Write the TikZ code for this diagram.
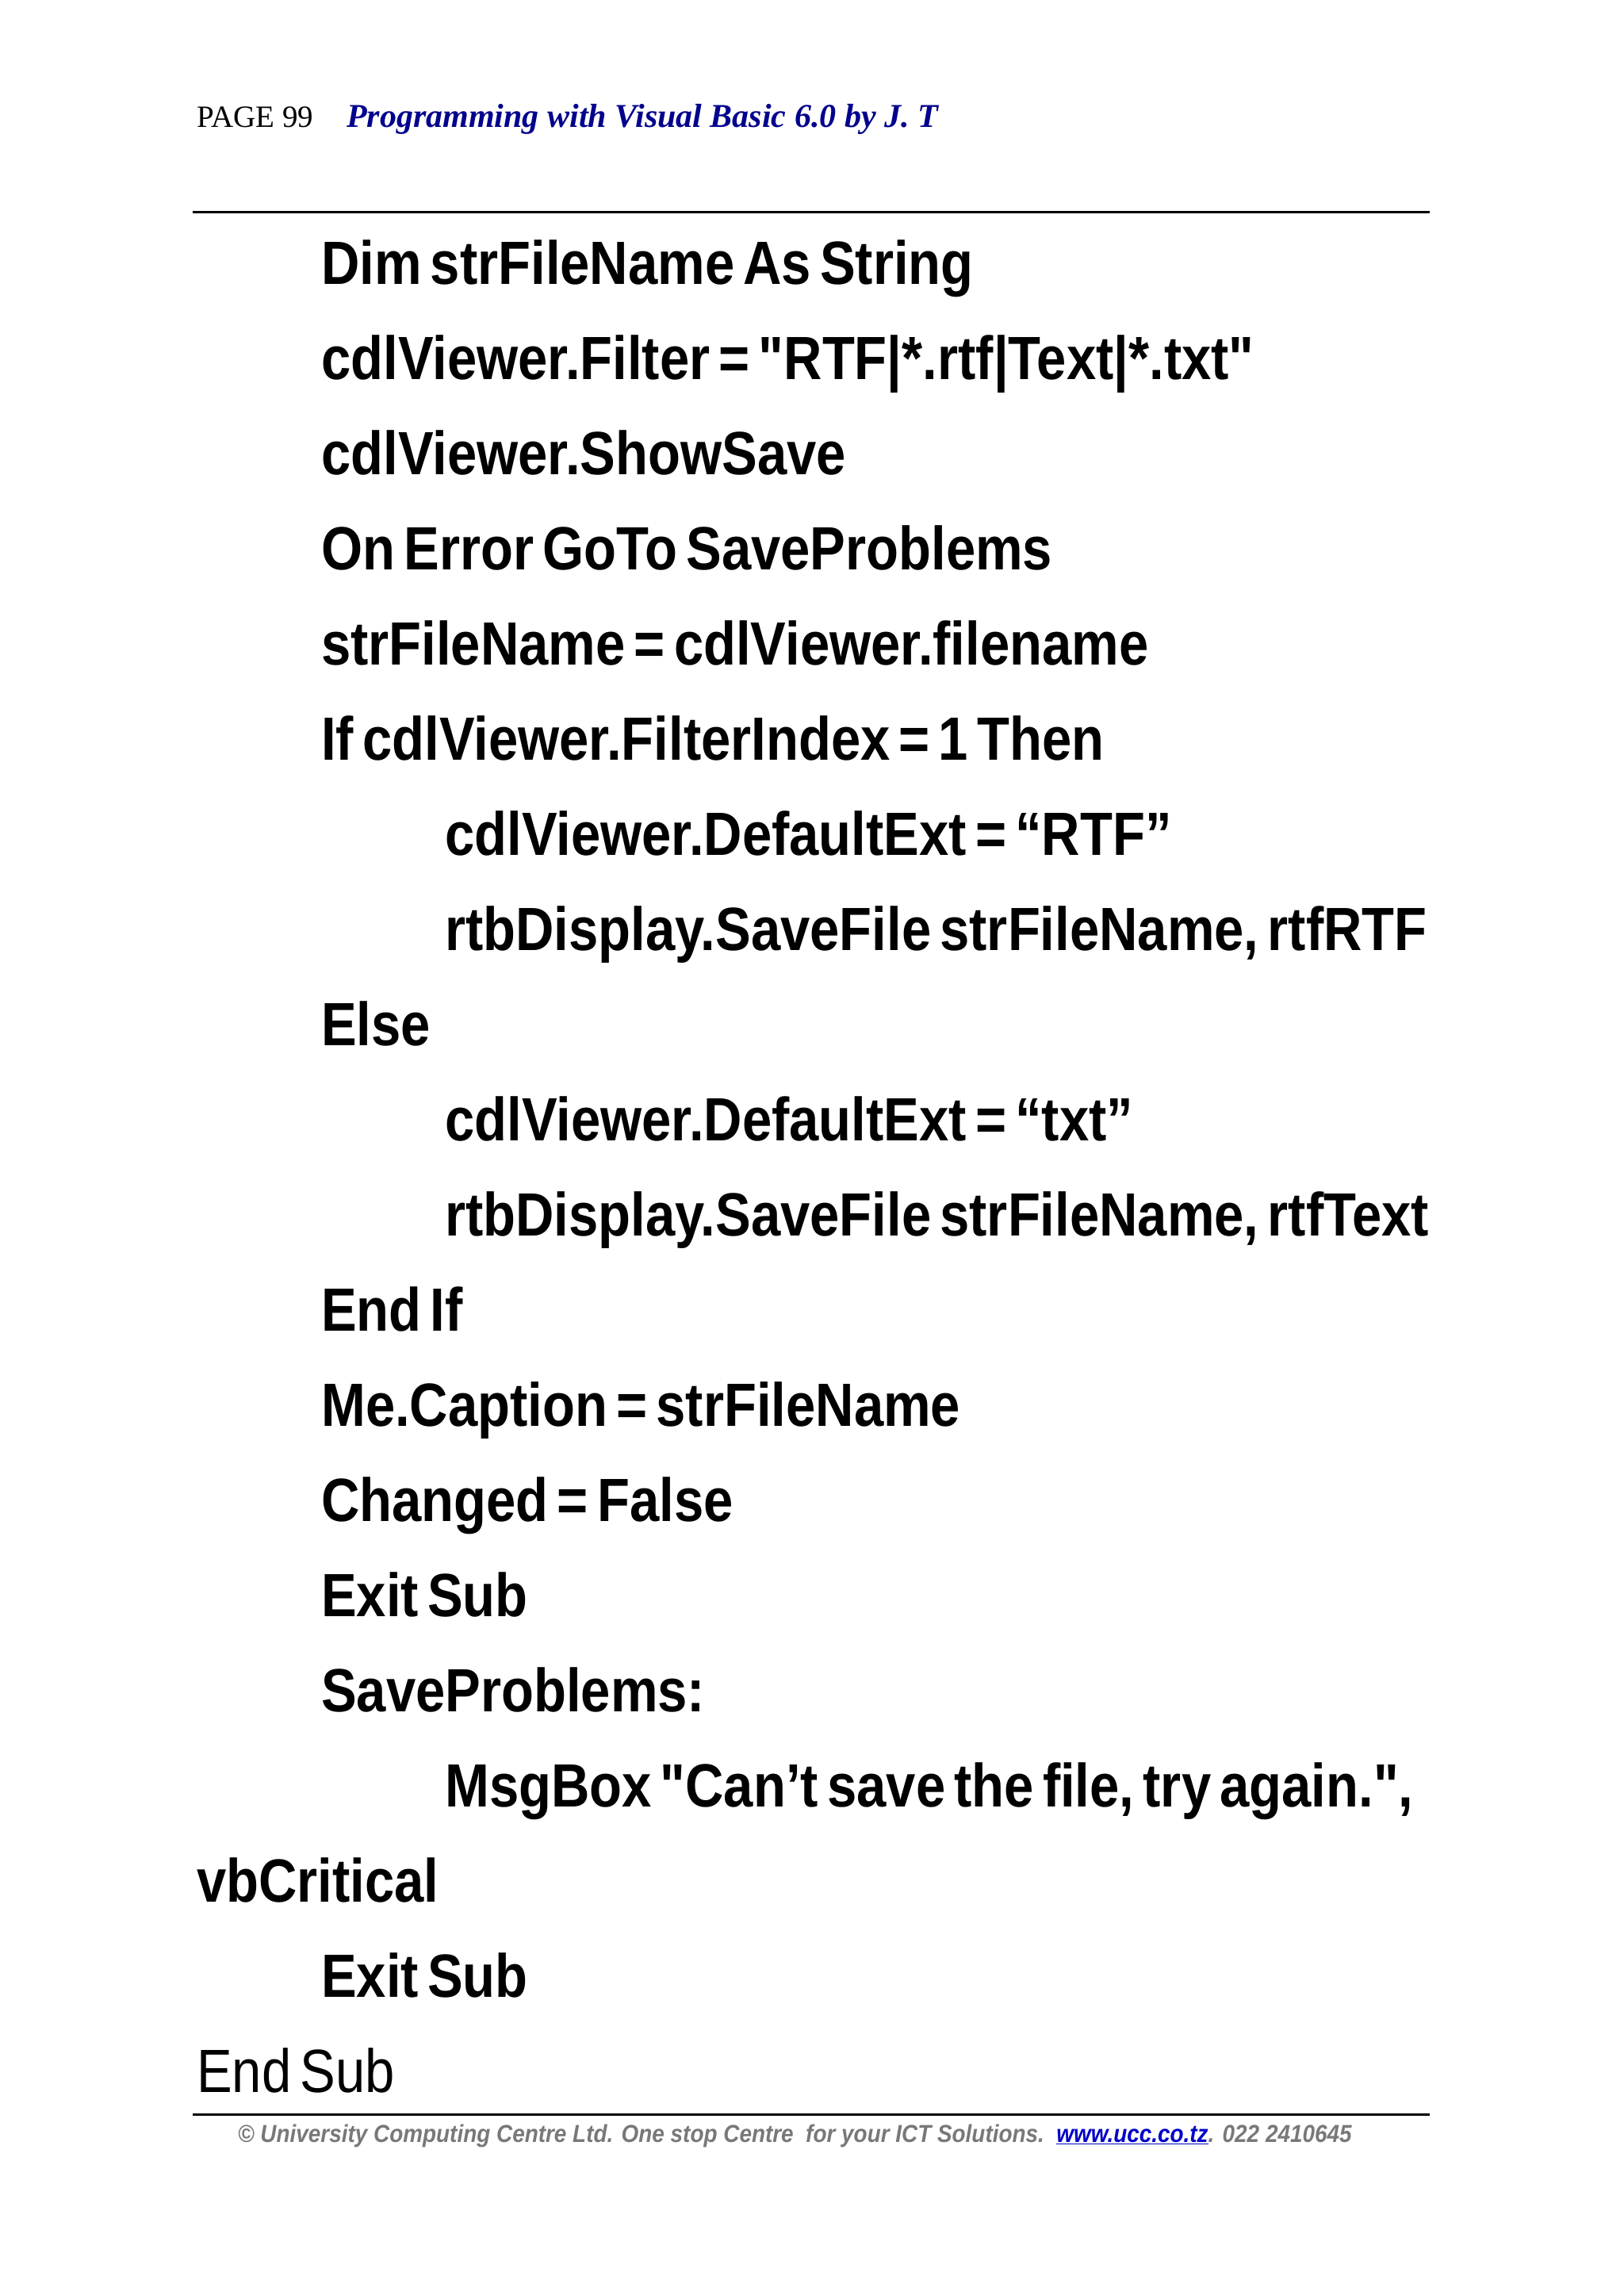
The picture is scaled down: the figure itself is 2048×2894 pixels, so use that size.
\documentclass[tikz,border=0pt]{standalone}
\usepackage{fontspec}
\setmainfont{Liberation Sans}
\newfontfamily\codefont[FakeStretch=0.87,WordSpace=0.6]{Liberation Sans}
\newfontfamily\serifh{Liberation Serif}
\newfontfamily\footfont[FakeStretch=0.9]{Liberation Sans}
\definecolor{hblue}{RGB}{0,0,140}
\definecolor{fgray}{RGB}{120,120,120}
\definecolor{lblue}{RGB}{0,0,200}
\newcommand{\dq}{\symbol{34}}
\begin{document}
\begin{tikzpicture}[x=1pt,y=-1pt,
  code/.style={anchor=base west,inner sep=0,font=\codefont\fontsize{77}{80}\selectfont\bfseries},
  codeR/.style={anchor=base west,inner sep=0,font=\codefont\fontsize{77}{80}\selectfont}]
\useasboundingbox (0,0) rectangle (2048,2894);
\node[anchor=base west,inner sep=0,font=\serifh\fontsize{39}{42}\selectfont] (pg) at (248,160) {PAGE 99};
\node[anchor=base west,inner sep=0,font=\serifh\fontsize{42}{44}\selectfont\bfseries\itshape,text=hblue] (ttl) at (437,160) {Programming with Visual Basic 6.0 by J. T};
\draw[line width=3pt] (243,267) -- (1803,267);
\def\L#1#2#3{\node[code] at (#1,{358+120*#2}) {#3};}
\L{405}{0}{Dim strFileName As String}
\L{405}{1}{cdlViewer.Filter = \dq RTF|*.rtf|Text|*.txt\dq}
\L{405}{2}{cdlViewer.ShowSave}
\L{405}{3}{On Error GoTo SaveProblems}
\L{405}{4}{strFileName = cdlViewer.filename}
\L{405}{5}{If cdlViewer.FilterIndex = 1 Then}
\L{561}{6}{cdlViewer.DefaultExt = “RTF”}
\L{561}{7}{rtbDisplay.SaveFile strFileName, rtfRTF}
\L{405}{8}{Else}
\L{561}{9}{cdlViewer.DefaultExt = “txt”}
\L{561}{10}{rtbDisplay.SaveFile strFileName, rtfText}
\L{405}{11}{End If}
\L{405}{12}{Me.Caption = strFileName}
\L{405}{13}{Changed = False}
\L{405}{14}{Exit Sub}
\L{405}{15}{SaveProblems:}
\L{561}{16}{MsgBox \dq Can’t save the file, try again.\dq ,}
\L{248}{17}{vbCritical}
\L{405}{18}{Exit Sub}
\node[codeR] at (248,{358+120*19}) {End Sub};
\draw[line width=3pt] (243,2666) -- (1803,2666);
\node[anchor=base west,inner sep=0,font=\footfont\fontsize{31}{33}\selectfont\bfseries\itshape,text=fgray] (ft) at (300,2701) {© University Computing Centre Ltd. One stop Centre\ \ for your ICT Solutions.\ \ \textcolor{lblue}{\underline{www.ucc.co.tz}}. 022 2410645};
\end{tikzpicture}
\end{document}
